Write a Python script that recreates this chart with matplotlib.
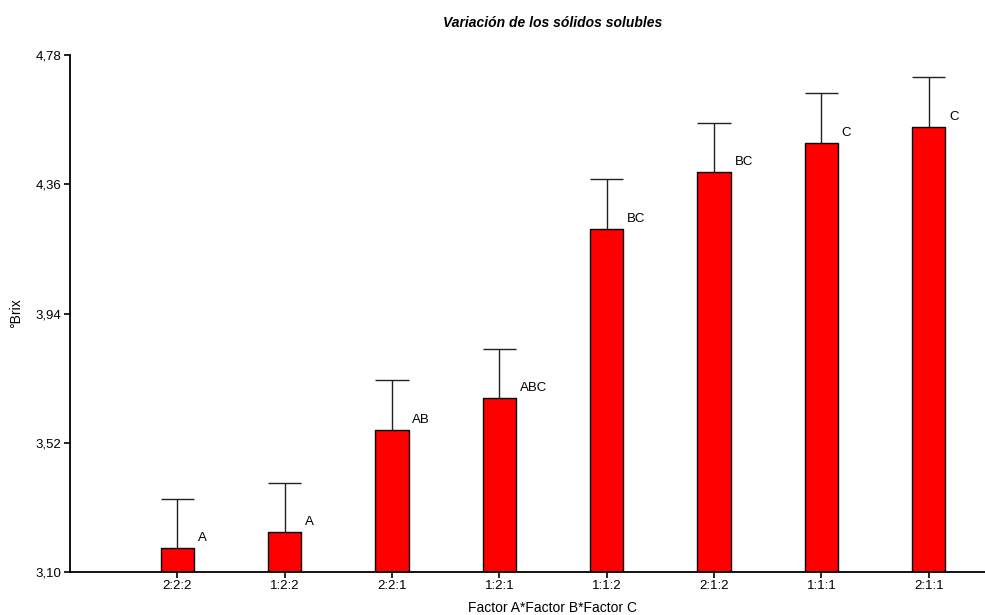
import matplotlib.pyplot as plt
import numpy as np

plt.rcParams['font.family'] = ['Liberation Sans', 'DejaVu Sans']

# medias por tratamiento (Factor A:Factor B:Factor C)
tratamientos = ['2:2:2', '1:2:2', '2:2:1', '1:2:1', '1:1:2', '2:1:2', '1:1:1', '2:1:1']
medias = [3.178, 3.230, 3.561, 3.665, 4.215, 4.400, 4.494, 4.546]
errores = [0.159, 0.159, 0.163, 0.160, 0.162, 0.159, 0.163, 0.163]
letras = ['A', 'A', 'AB', 'ABC', 'BC', 'BC', 'C', 'C']
yticks = [3.10, 3.52, 3.94, 4.36, 4.78]

fig = plt.figure(figsize=(9.85, 6.15), dpi=100)
ax = fig.add_axes([70/985, 1-572/615, (1036-70)/985, (572-55)/615])

x = np.arange(1, len(tratamientos)+1)
ancho = 0.31
medias = np.array(medias)
errores = np.array(errores)
ax.bar(x, medias, width=ancho, color='#ff0000', edgecolor='black', linewidth=1, zorder=2)
# solo la barra de error superior
ax.vlines(x, medias, medias+errores, color='#222222', linewidth=1, zorder=1)
ax.hlines(medias+errores, x-ancho/2, x+ancho/2, color='#222222', linewidth=1, zorder=1)

for xi, m, l in zip(x, medias, letras):
    ax.text(xi+0.19, m+0.012, l, fontsize=9.5, ha='left', va='bottom')

ax.set_xlim(0, 9)
ax.set_ylim(3.10, 4.78)
ax.set_xticks(x)
ax.set_xticklabels(tratamientos, fontsize=9.5)
ax.set_yticks(yticks)
ax.set_yticklabels([('%.2f' % v).replace('.', ',') for v in yticks], fontsize=9.5)
ax.tick_params(direction='out', length=4, width=1.2, pad=2)

for s in ['top', 'right']:
    ax.spines[s].set_visible(False)
for s in ['left', 'bottom']:
    ax.spines[s].set_linewidth(1.3)

ax.set_title('Variación de los sólidos solubles', fontsize=10, fontweight='bold',
             fontstyle='italic', pad=20)
ax.set_xlabel('Factor A*Factor B*Factor C', fontsize=10, labelpad=6)
ax.set_ylabel('°Brix', fontsize=10, labelpad=9)

fig.savefig('out.png', dpi=100)
